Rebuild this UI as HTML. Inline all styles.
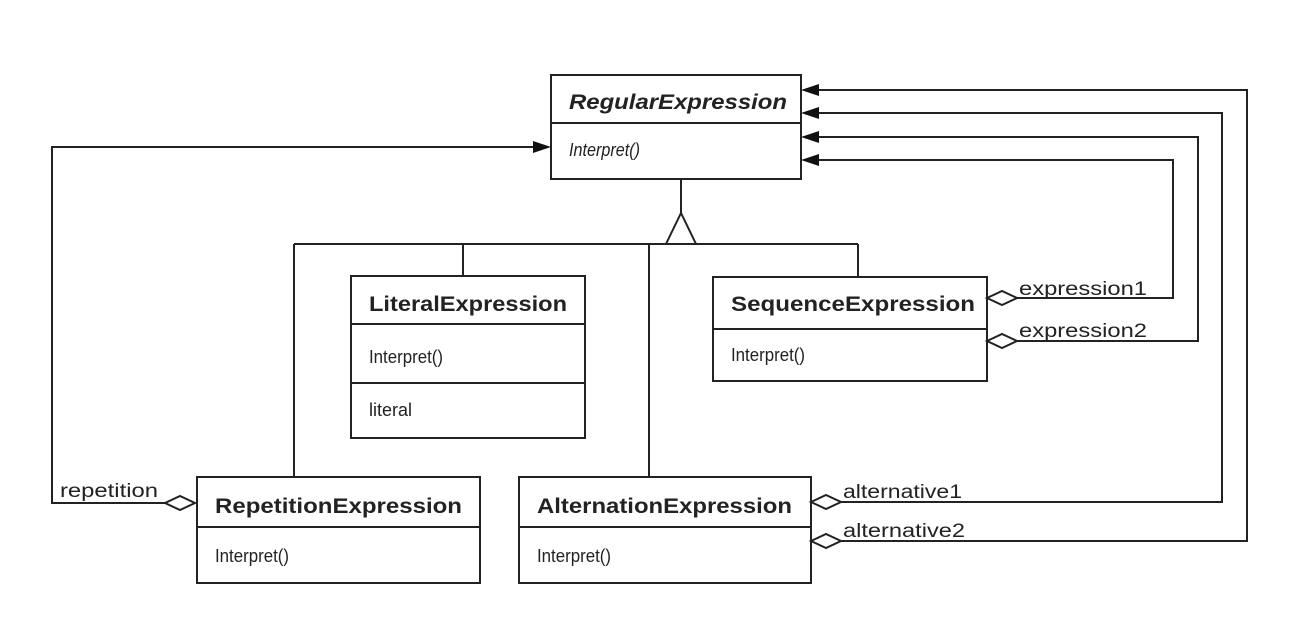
<!DOCTYPE html>
<html><head><meta charset="utf-8"><style>
html,body{margin:0;padding:0;background:#fff;}
svg{display:block;}
text{font-family:"Liberation Sans",Arial,sans-serif;fill:#222;}
.b{font-weight:bold;font-size:21px;}
.n{font-size:18px;}
.l{font-size:19px;}
.i{font-style:italic;}
</style></head><body>
<svg width="1309" height="633" viewBox="0 0 1309 633" xmlns="http://www.w3.org/2000/svg">
<g fill="none" stroke="#222" stroke-width="2">
<rect x="551" y="75" width="250" height="104" fill="#fff"/>
<line x1="551" y1="123" x2="801" y2="123"/>
<line x1="681" y1="179" x2="681" y2="213"/>
<polygon points="681,213 666,244 696,244" fill="#fff"/>
<line x1="294" y1="244" x2="858" y2="244"/>
<line x1="294" y1="244" x2="294" y2="477"/>
<line x1="463" y1="244" x2="463" y2="276"/>
<line x1="649" y1="244" x2="649" y2="477"/>
<line x1="858" y1="244" x2="858" y2="277"/>
<rect x="351" y="276" width="234" height="162"/>
<line x1="351" y1="324" x2="585" y2="324"/>
<line x1="351" y1="383" x2="585" y2="383"/>
<rect x="713" y="277" width="274" height="104"/>
<line x1="713" y1="329" x2="987" y2="329"/>
<rect x="197" y="477" width="283" height="106"/>
<line x1="197" y1="527" x2="480" y2="527"/>
<rect x="519" y="477" width="292" height="106"/>
<line x1="519" y1="527" x2="811" y2="527"/>
<polyline points="195,503 52,503 52,147 535,147"/>
<polyline points="1017,298 1173,298 1173,160 817,160"/>
<polyline points="1017,341 1198,341 1198,137 817,137"/>
<polyline points="841,502 1222,502 1222,113 817,113"/>
<polyline points="841,541 1247,541 1247,90 817,90"/>
<polygon points="165,503 180,496 195,503 180,510" fill="#fff"/>
<polygon points="987,298 1002,291 1017,298 1002,305" fill="#fff"/>
<polygon points="987,341 1002,334 1017,341 1002,348" fill="#fff"/>
<polygon points="811,502 826,495 841,502 826,509" fill="#fff"/>
<polygon points="811,541 826,534 841,541 826,548" fill="#fff"/>
</g>
<g fill="#111">
<polygon points="551,147 533,141 533,153"/>
<polygon points="801,90 819,84 819,96"/>
<polygon points="801,113 819,107 819,119"/>
<polygon points="801,137 819,131 819,143"/>
<polygon points="801,160 819,154 819,166"/>
</g>
<text x="569" y="109" class="b i" textLength="218" lengthAdjust="spacingAndGlyphs">RegularExpression</text>
<text x="569" y="156" class="n i" textLength="71" lengthAdjust="spacingAndGlyphs">Interpret()</text>
<text x="369" y="311" class="b" textLength="198" lengthAdjust="spacingAndGlyphs">LiteralExpression</text>
<text x="369" y="363" class="n" textLength="74" lengthAdjust="spacingAndGlyphs">Interpret()</text>
<text x="369" y="416" class="n">literal</text>
<text x="731" y="311" class="b" textLength="244" lengthAdjust="spacingAndGlyphs">SequenceExpression</text>
<text x="731" y="361" class="n" textLength="74" lengthAdjust="spacingAndGlyphs">Interpret()</text>
<text x="215" y="513" class="b" textLength="247" lengthAdjust="spacingAndGlyphs">RepetitionExpression</text>
<text x="215" y="562" class="n" textLength="74" lengthAdjust="spacingAndGlyphs">Interpret()</text>
<text x="537" y="513" class="b" textLength="255" lengthAdjust="spacingAndGlyphs">AlternationExpression</text>
<text x="537" y="562" class="n" textLength="74" lengthAdjust="spacingAndGlyphs">Interpret()</text>
<text x="60" y="497" class="l" textLength="98" lengthAdjust="spacingAndGlyphs">repetition</text>
<text x="1019" y="295" class="l" textLength="128" lengthAdjust="spacingAndGlyphs">expression1</text>
<text x="1019" y="337" class="l" textLength="128" lengthAdjust="spacingAndGlyphs">expression2</text>
<text x="843" y="498" class="l" textLength="119" lengthAdjust="spacingAndGlyphs">alternative1</text>
<text x="843" y="537" class="l" textLength="122" lengthAdjust="spacingAndGlyphs">alternative2</text>
</svg>
</body></html>
